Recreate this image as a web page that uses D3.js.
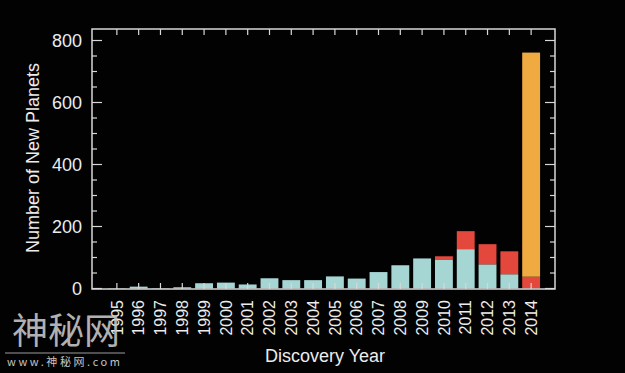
<head>
  <style>
    body {
      margin: 0;
      background: #000;
    }

    svg {
      background: #020202;
      font-family: "Liberation Sans", Arial, sans-serif;
    }

    .frame {
      fill: none;
      stroke: #d8d8d8;
      stroke-width: 1.5;
    }

    .tick {
      stroke: #d8d8d8;
      stroke-width: 1.2;
    }

    .label {
      fill: #ececec;
    }
  </style>

  <script src="https://cdn.jsdelivr.net/npm/d3@7/dist/d3.min.js"></script>
</head>

<body>
  <script>
    const width = 625;
    const height = 373;

    // discovery years and counts per method
    const years = ["1995", "1996", "1997", "1998", "1999", "2000", "2001", "2002", "2003", "2004",
      "2005", "2006", "2007", "2008", "2009", "2010", "2011", "2012", "2013", "2014"];
    const groundBased = [1, 6, 1, 4, 17, 19, 13, 33, 27, 27, 39, 32, 53, 75, 97, 92, 127, 78, 46, 0];
    const kepler = [0, 0, 0, 0, 0, 0, 0, 0, 0, 0, 0, 0, 0, 0, 0, 12, 58, 65, 74, 38];
    const keplerVerified = [0, 0, 0, 0, 0, 0, 0, 0, 0, 0, 0, 0, 0, 0, 0, 0, 0, 0, 0, 723];
    const yTicks = [0, 200, 400, 600, 800];
    const yMinorTicks = d3.range(0, 850, 50);

    const seriesKeys = ["groundBased", "kepler", "keplerVerified"];
    const colors = ["#a6d6d4", "#e4473b", "#f0aa42"];

    const table = years.map((y, i) => ({
      year: y,
      groundBased: groundBased[i],
      kepler: kepler[i],
      keplerVerified: keplerVerified[i]
    }));

    const frame = { left: 92, right: 555, top: 29, bottom: 289 };

    const x = d3.scaleBand()
      .domain(years)
      .range([104, 544])
      .padding(0.18);

    const y = d3.scaleLinear()
      .domain([0, 800])
      .range([288.5, 40.5]);

    const svg = d3.select('body')
      .append('svg')
      .attr('width', width)
      .attr('height', height);

    // bars
    const stacked = d3.stack().keys(seriesKeys)(table);
    svg.append('g')
      .selectAll('g')
      .data(stacked)
      .join('g')
      .attr('fill', (d, i) => colors[i])
      .selectAll('rect')
      .data(d => d)
      .join('rect')
      .attr('x', d => x(d.data.year))
      .attr('width', x.bandwidth())
      .attr('y', d => y(d[1]))
      .attr('height', d => Math.max(0, y(d[0]) - y(d[1])));

    // frame
    svg.append('rect')
      .attr('class', 'frame')
      .attr('x', frame.left)
      .attr('y', frame.top)
      .attr('width', frame.right - frame.left)
      .attr('height', frame.bottom - frame.top);

    // ticks: left and right (inward), major every 200, minor every 50
    const ticks = svg.append('g');
    yMinorTicks.forEach(v => {
      const len = yTicks.includes(v) ? 10 : 5;
      ticks.append('line').attr('class', 'tick')
        .attr('x1', frame.left).attr('x2', frame.left + len)
        .attr('y1', y(v)).attr('y2', y(v));
      ticks.append('line').attr('class', 'tick')
        .attr('x1', frame.right).attr('x2', frame.right - len)
        .attr('y1', y(v)).attr('y2', y(v));
    });

    // ticks: top and bottom at each year
    years.forEach(yr => {
      const cx = x(yr) + x.bandwidth() / 2;
      ticks.append('line').attr('class', 'tick')
        .attr('x1', cx).attr('x2', cx)
        .attr('y1', frame.top).attr('y2', frame.top + 6);
      ticks.append('line').attr('class', 'tick')
        .attr('x1', cx).attr('x2', cx)
        .attr('y1', frame.bottom).attr('y2', frame.bottom - 6);
    });

    // y tick labels
    svg.append('g')
      .selectAll('text')
      .data(yTicks)
      .join('text')
      .attr('class', 'label')
      .attr('x', 82)
      .attr('y', d => y(d))
      .attr('dy', '0.36em')
      .attr('text-anchor', 'end')
      .style('font-size', '18px')
      .text(d => d);

    // x tick labels, rotated
    svg.append('g')
      .selectAll('text')
      .data(years)
      .join('text')
      .attr('class', 'label')
      .attr('transform', d => `translate(${x(d) + x.bandwidth() / 2},300) rotate(-90)`)
      .attr('dy', '0.36em')
      .attr('text-anchor', 'end')
      .style('font-size', '16px')
      .text(d => d);

    // axis titles
    svg.append('text')
      .attr('class', 'label')
      .attr('transform', 'translate(33,158) rotate(-90)')
      .attr('dy', '0.36em')
      .attr('text-anchor', 'middle')
      .style('font-size', '18px')
      .text('Number of New Planets');

    svg.append('text')
      .attr('class', 'label')
      .attr('x', 325)
      .attr('y', 362)
      .attr('text-anchor', 'middle')
      .style('font-size', '18px')
      .text('Discovery Year');

    // watermark
    svg.append('text')
      .attr('x', 12)
      .attr('y', 344)
      .attr('fill', '#c4c4c4')
      .attr('opacity', 0.9)
      .style('font-family', '"Noto Sans CJK SC"')
      .style('font-size', '36px')
      .text('神秘网');
    svg.append('line')
      .attr('x1', 5).attr('x2', 125)
      .attr('y1', 353).attr('y2', 353)
      .attr('stroke', '#c4c4c4')
      .attr('stroke-width', 0.8);
    svg.append('text')
      .attr('x', 7)
      .attr('y', 366)
      .attr('fill', '#c4c4c4')
      .attr('textLength', 113)
      .style('font-family', '"Noto Sans CJK SC"')
      .style('font-size', '11px')
      .text('www.神秘网.com');
  </script>
</body>
